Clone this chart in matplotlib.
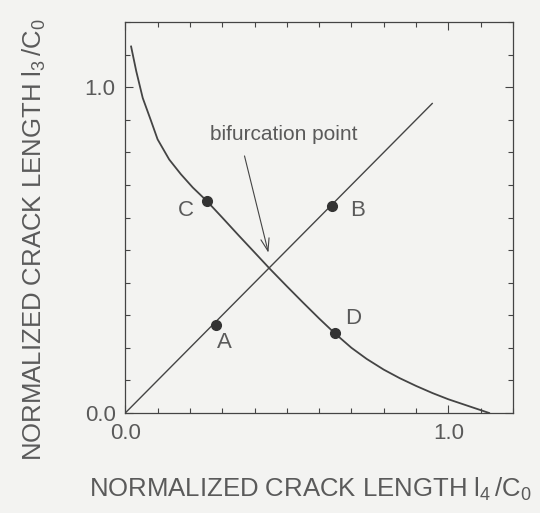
import matplotlib.pyplot as plt
from matplotlib.ticker import MultipleLocator, FixedLocator

# l3 = l4 branch (straight line through the origin)
line_x = [0.0, 0.95]
line_y = [0.0, 0.95]

# second branch
curve_x = [0.018, 0.034, 0.054, 0.080, 0.100, 0.136, 0.172, 0.209, 0.252, 0.30, 0.35, 0.40,
           0.447, 0.50, 0.55, 0.60, 0.649, 0.70, 0.747, 0.80, 0.849, 0.90, 0.951, 1.00,
           1.054, 1.09, 1.126]
curve_y = [1.125, 1.049, 0.967, 0.896, 0.840, 0.778, 0.733, 0.692, 0.651, 0.600, 0.546, 0.493,
           0.443, 0.389, 0.339, 0.290, 0.244, 0.200, 0.166, 0.133, 0.107, 0.083, 0.061, 0.042,
           0.024, 0.012, 0.0]

# marked states
point_names = ['A', 'B', 'C', 'D']
point_x = [0.282, 0.641, 0.252, 0.649]
point_y = [0.271, 0.634, 0.651, 0.244]
label_x = [0.308, 0.72, 0.186, 0.705]
label_y = [0.215, 0.62, 0.62, 0.29]

bif_x, bif_y = 0.443, 0.492
arrow_x, arrow_y = 0.369, 0.789

ink = '#444444'
txt = '#5a5a5a'
bg = '#f3f3f1'

plt.rcParams['font.family'] = ['Liberation Sans', 'DejaVu Sans']
plt.rcParams['mathtext.default'] = 'regular'

fig = plt.figure(figsize=(5.4, 5.13), dpi=100, facecolor=bg)
ax = fig.add_axes([0.232, 0.195, 0.718, 0.762], facecolor=bg)

ax.plot(line_x, line_y, color=ink, lw=1.0)
ax.plot(curve_x, curve_y, color=ink, lw=1.3)
ax.plot(point_x, point_y, 'o', color='#333333', ms=7)
for name, tx, ty in zip(point_names, label_x, label_y):
    ax.text(tx, ty, name, color=txt, fontsize=16, ha='center', va='center')

ax.text(0.49, 0.856, 'bifurcation point', color=txt, fontsize=15, ha='center', va='center')
ax.annotate('', xy=(bif_x, bif_y), xytext=(arrow_x, arrow_y),
            arrowprops=dict(arrowstyle='->,head_length=0.6,head_width=0.2', color=ink,
                            lw=0.8, shrinkA=0, shrinkB=0, mutation_scale=15))

ax.set_xlim(0, 1.2)
ax.set_ylim(0, 1.2)
ax.xaxis.set_major_locator(FixedLocator([0.0, 1.0]))
ax.yaxis.set_major_locator(FixedLocator([0.0, 1.0]))
ax.xaxis.set_minor_locator(MultipleLocator(0.1))
ax.yaxis.set_minor_locator(MultipleLocator(0.1))
ax.set_xticklabels(['0.0', '1.0'])
ax.set_yticklabels(['0.0', '1.0'])
ax.tick_params(which='both', direction='in', top=True, right=True,
               color=ink, labelcolor=txt, labelsize=16, width=0.8)
ax.tick_params(which='major', length=6, pad=7)
ax.tick_params(which='minor', length=3.5)
for s in ax.spines.values():
    s.set_color(ink)
    s.set_linewidth(0.9)

ax.set_xlabel('NORMALIZED CRACK LENGTH $l_4\\,/C_0$', color=txt, fontsize=18.5)
ax.set_ylabel('NORMALIZED CRACK LENGTH $l_3\\,/C_0$', color=txt, fontsize=18.5)
ax.xaxis.set_label_coords(0.478, -0.16)
ax.yaxis.set_label_coords(-0.20, 0.445)

fig.savefig('out.png', dpi=100, facecolor=bg)
